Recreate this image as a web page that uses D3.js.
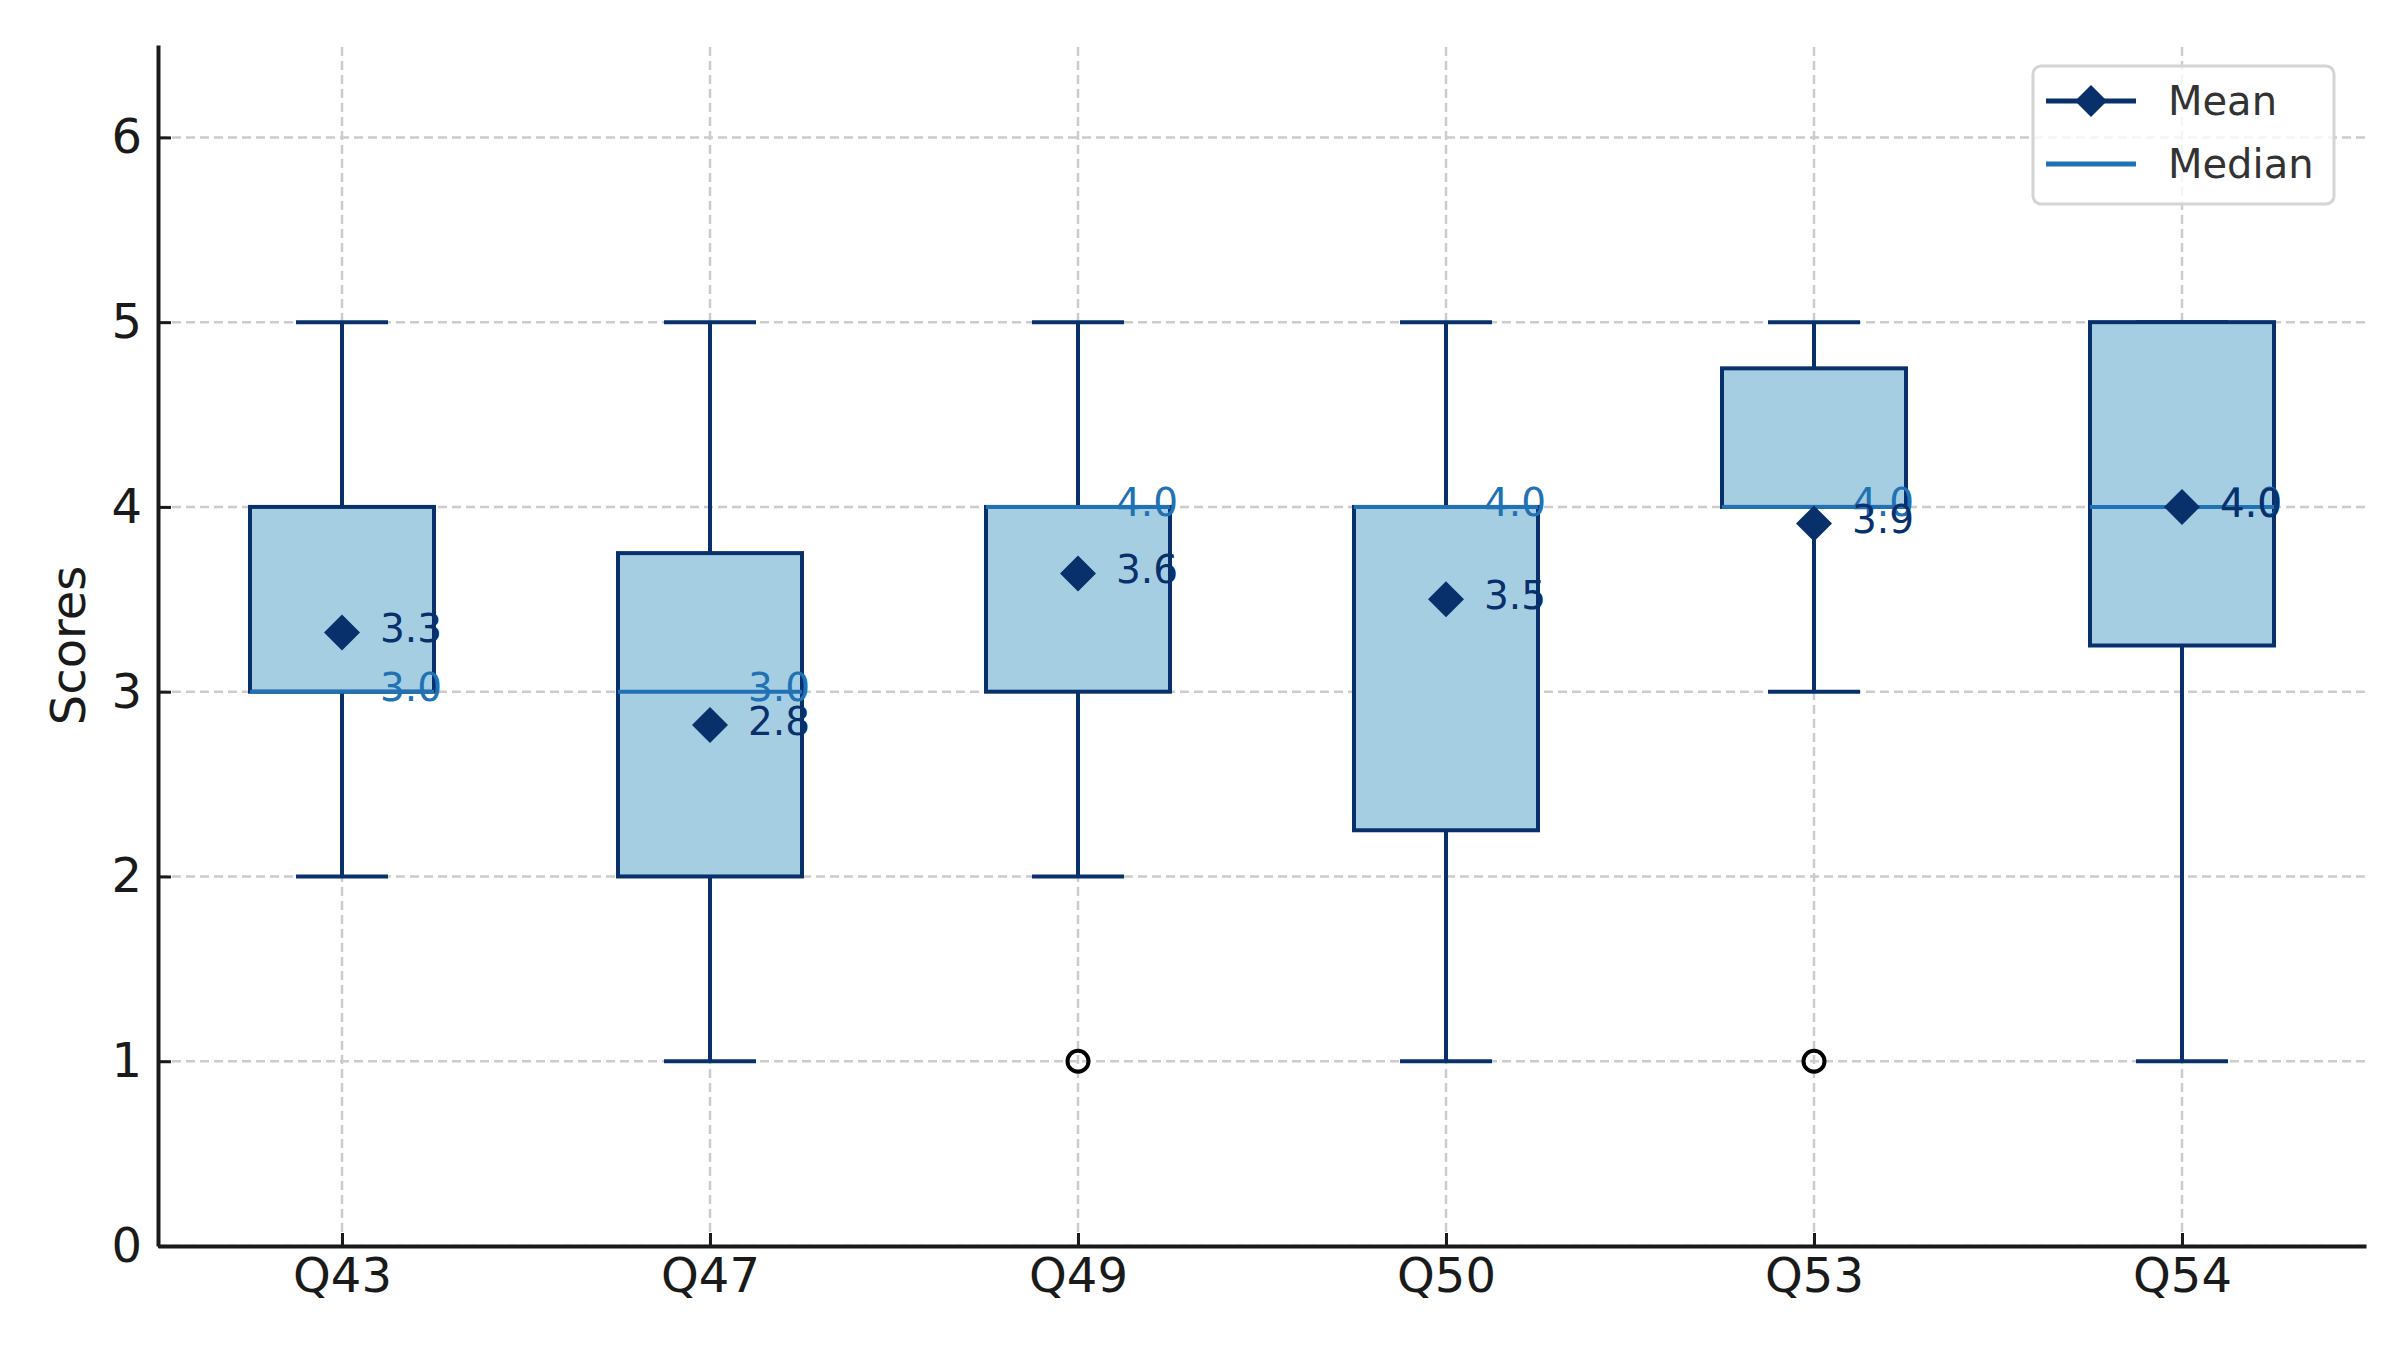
<!doctype html>
<html>
<head>
  <meta charset="utf-8">
  <title>Scores box plot</title>
  <style>
    body { margin: 0; background: #fff; }
    text { font-family: "DejaVu Sans", sans-serif; }
  </style>
</head>
<body>
  <div class="graphContainer"></div>
  <script src="https://cdn.jsdelivr.net/npm/d3@7"></script>
  <script>
let categories = ["Q43", "Q47", "Q49", "Q50", "Q53", "Q54"];
let whiskerLow = [2, 1, 2, 1, 3, 1];
let q1 = [3, 2, 3, 2.25, 4, 3.25];
let medians = [3, 3, 4, 4, 4, 4];
let q3 = [4, 3.75, 4, 4, 4.75, 5];
let whiskerHigh = [5, 5, 5, 5, 5, 5];
let means = [3.32, 2.82, 3.64, 3.5, 3.91, 4.0];
let outliers = [[], [], [1], [], [1], []];
let yTicks = [0, 1, 2, 3, 4, 5, 6];

function drawChart() {
    var w = 2400,
        h = 1350;

    let navy = "#08306b",
        medianBlue = "#2171b5",
        boxFill = "#a6cee3";

    var svg = d3.select(".graphContainer")
        .append("svg")
        .attr("width", w)
        .attr("height", h);

    var x = d3.scaleLinear().domain([0.5, 6.5]).range([158, 2366]);
    var y = d3.scaleLinear().domain([0, 6.5]).range([1246, 45]);

    let positions = categories.map((c, i) => i + 1);

    // grid
    var grid = svg.append("g");
    grid.selectAll(".gx").data(positions).enter().append("line")
        .attr("x1", d => x(d)).attr("x2", d => x(d))
        .attr("y1", y(0)).attr("y2", y(6.5))
        .attr("stroke", "#cccccc").attr("stroke-width", 2.5)
        .attr("stroke-dasharray", "9,5");
    grid.selectAll(".gy").data(yTicks).enter().append("line")
        .attr("x1", x(0.5)).attr("x2", x(6.5))
        .attr("y1", d => y(d)).attr("y2", d => y(d))
        .attr("stroke", "#cccccc").attr("stroke-width", 2.5)
        .attr("stroke-dasharray", "9,5");

    // boxes
    var boxes = svg.append("g");
    positions.forEach(function(p, i) {
        let g = boxes.append("g");
        // whiskers
        g.append("line")
            .attr("x1", x(p)).attr("x2", x(p))
            .attr("y1", y(q3[i])).attr("y2", y(whiskerHigh[i]))
            .attr("stroke", navy).attr("stroke-width", 4);
        g.append("line")
            .attr("x1", x(p)).attr("x2", x(p))
            .attr("y1", y(q1[i])).attr("y2", y(whiskerLow[i]))
            .attr("stroke", navy).attr("stroke-width", 4);
        [whiskerLow[i], whiskerHigh[i]].forEach(function(v) {
            g.append("line")
                .attr("x1", x(p - 0.125)).attr("x2", x(p + 0.125))
                .attr("y1", y(v)).attr("y2", y(v))
                .attr("stroke", navy).attr("stroke-width", 4);
        });
        // box
        g.append("rect")
            .attr("x", x(p - 0.25))
            .attr("y", y(q3[i]))
            .attr("width", x(p + 0.25) - x(p - 0.25))
            .attr("height", y(q1[i]) - y(q3[i]))
            .attr("fill", boxFill)
            .attr("stroke", navy).attr("stroke-width", 4);
        // median
        g.append("line")
            .attr("x1", x(p - 0.25)).attr("x2", x(p + 0.25))
            .attr("y1", y(medians[i])).attr("y2", y(medians[i]))
            .attr("stroke", medianBlue).attr("stroke-width", 4);
        // outliers
        g.selectAll("circle").data(outliers[i]).enter().append("circle")
            .attr("cx", x(p)).attr("cy", d => y(d)).attr("r", 10.5)
            .attr("fill", "none").attr("stroke", "#000").attr("stroke-width", 4);
        // mean diamond
        let cx = x(p), cy = y(means[i]), s = 18;
        g.append("path")
            .attr("d", `M${cx},${cy - s}L${cx + s},${cy}L${cx},${cy + s}L${cx - s},${cy}Z`)
            .attr("fill", navy);
        // labels
        g.append("text")
            .attr("x", cx + 38).attr("y", y(medians[i]))
            .attr("dy", "0.23em")
            .attr("font-size", 39)
            .attr("fill", medianBlue)
            .text(medians[i].toFixed(1));
        g.append("text")
            .attr("x", cx + 38).attr("y", cy)
            .attr("dy", "0.25em")
            .attr("font-size", 39)
            .attr("fill", navy)
            .text(means[i].toFixed(1));
    });

    // axes
    var xAxis = d3.axisBottom(x)
        .tickValues(positions)
        .tickFormat((d, i) => categories[i])
        .tickSizeInner(-13).tickSizeOuter(0).tickPadding(12);
    var gx = svg.append("g")
        .attr("transform", `translate(0,${y(0)})`)
        .call(xAxis);

    var yAxis = d3.axisLeft(y)
        .tickValues(yTicks)
        .tickFormat(d3.format("d"))
        .tickSizeInner(-13).tickSizeOuter(0).tickPadding(16);
    var gy = svg.append("g")
        .attr("transform", `translate(${x(0.5)},0)`)
        .call(yAxis);

    [gx, gy].forEach(function(g) {
        g.select(".domain").attr("stroke", "#1a1a1a").attr("stroke-width", 4);
        g.selectAll(".tick line").attr("stroke", "#1a1a1a").attr("stroke-width", 3);
        g.selectAll(".tick text")
            .attr("font-size", 48)
            .attr("fill", "#1a1a1a")
            .attr("font-family", "DejaVu Sans, sans-serif");
    });

    svg.append("text")
        .attr("transform", `translate(68,${(y(0) + y(6.5)) / 2}) rotate(-90)`)
        .attr("text-anchor", "middle")
        .attr("dominant-baseline", "central")
        .attr("font-size", 48)
        .attr("fill", "#1a1a1a")
        .text("Scores");

    // legend
    var legend = svg.append("g");
    legend.append("rect")
        .attr("x", 2033).attr("y", 66)
        .attr("width", 301).attr("height", 138)
        .attr("rx", 8)
        .attr("fill", "#fff").attr("fill-opacity", 0.8)
        .attr("stroke", "#d4d4d4").attr("stroke-width", 3);
    let legendItems = ["Mean", "Median"];
    legendItems.forEach(function(name, i) {
        let ly = 101 + i * 63;
        let color = i === 0 ? navy : medianBlue;
        legend.append("line")
            .attr("x1", 2046).attr("x2", 2136)
            .attr("y1", ly).attr("y2", ly)
            .attr("stroke", color).attr("stroke-width", 5);
        if (i === 0) {
            let s = 16;
            legend.append("path")
                .attr("d", `M2091,${ly - s}L${2091 + s},${ly}L2091,${ly + s}L${2091 - s},${ly}Z`)
                .attr("fill", navy);
        }
        legend.append("text")
            .attr("x", 2168).attr("y", ly)
            .attr("dy", "0.36em")
            .attr("font-size", 40)
            .attr("fill", "#333")
            .text(name);
    });
}

drawChart();
  </script>
</body>
</html>
